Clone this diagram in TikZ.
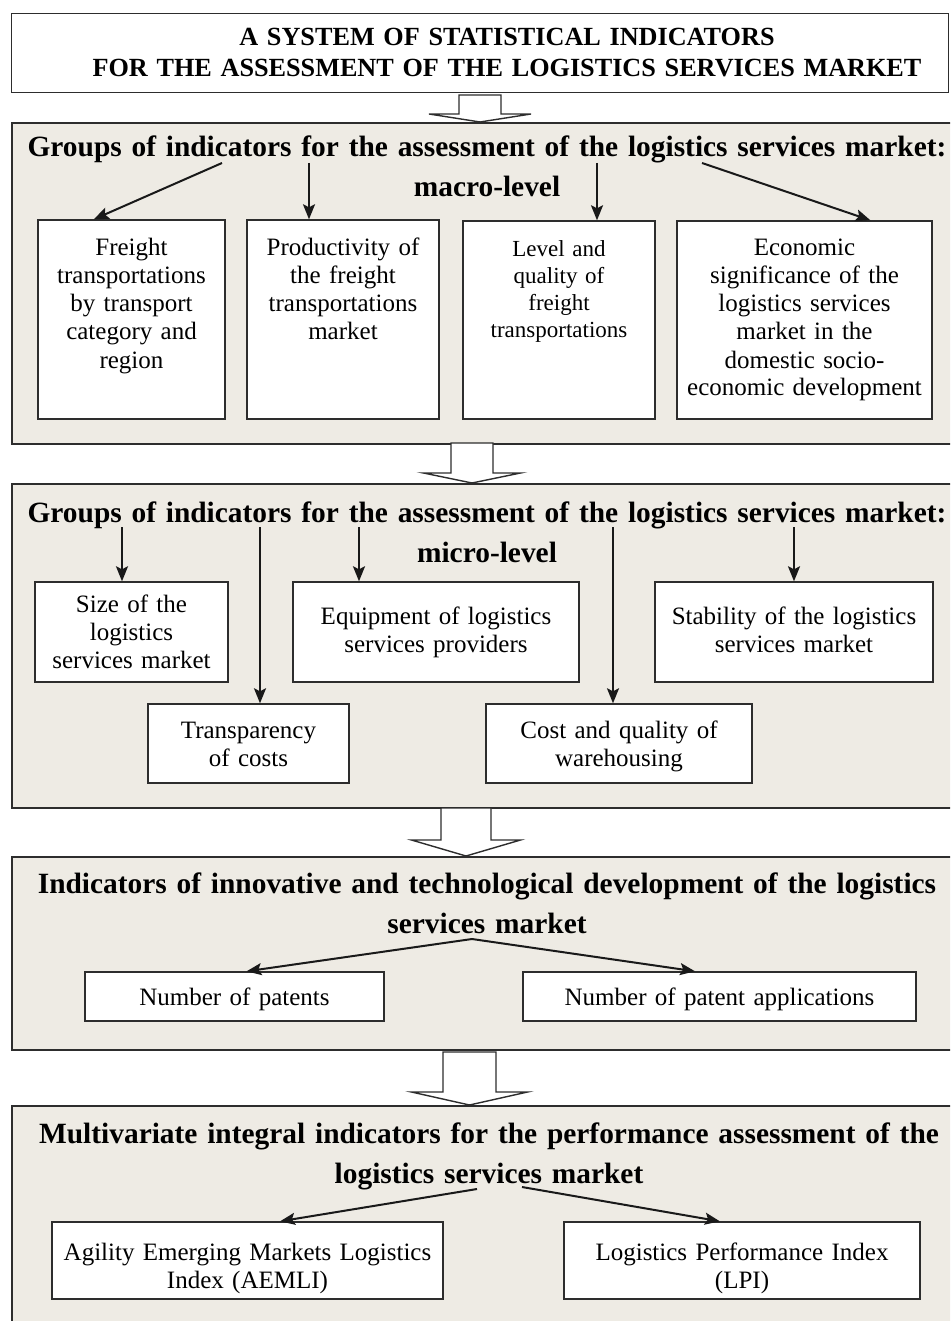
\documentclass[tikz,border=0pt]{standalone}
\usepackage{fontspec}
\setmainfont{Liberation Serif}
\usetikzlibrary{arrows.meta,calc}
\definecolor{panelfill}{RGB}{238,235,228}
\definecolor{edge}{RGB}{45,45,45}
\def\hollowarrow(#1,#2,#3)(#4,#5,#6){\draw[hollow] (#1-#2,#4) -- (#1-#2,#5) -- (#1-#3,#5) -- (#1,#6) -- (#1+#3,#5) -- (#1+#2,#5) -- (#1+#2,#4) -- cycle;}

\begin{document}
\begin{tikzpicture}[x=1pt, y=-1pt,
	panel/.style={draw=edge, fill=panelfill, line width=1.6pt, inner sep=0pt, anchor=north west},
	ibox/.style={draw=edge, fill=white, line width=1.4pt, inner sep=0pt, align=center, anchor=base, font={\fontsize{25}{28}\selectfont}},
	head/.style={anchor=base, align=center, text width=945pt, inner sep=0pt, font={\fontsize{29.4}{40}\selectfont\bfseries}},
	conn/.style={draw=black!90, line width=2pt, -{Stealth[length=15pt,width=12pt,inset=3pt]}},
	hollow/.style={draw=edge, fill=white, line width=1.4pt, line join=miter}]
		%%%%% START %%%%%
		\useasboundingbox (0,0) rectangle (950,1321);
		\clip (0,0) rectangle (950,1321);
		
		% title
		\node[draw=edge, fill=white, line width=1.4pt, inner sep=0pt, anchor=north west, minimum width=937pt, minimum height=79pt] (titlebox) at (11,13) {};
		\node[anchor=base, align=center, text width=900pt, inner sep=0pt, font={\fontsize{26.2}{31}\selectfont\bfseries}] (title) at (507,46) {A SYSTEM OF STATISTICAL INDICATORS\\FOR THE ASSESSMENT OF THE LOGISTICS SERVICES MARKET};
		
		% the four shaded levels
		\node[panel, minimum width=941pt, minimum height=321pt] (macro) at (11,122) {};
		\node[panel, minimum width=941pt, minimum height=324pt] (micro) at (11,483) {};
		\node[panel, minimum width=941pt, minimum height=193pt] (innov) at (11,856) {};
		\node[panel, minimum width=941pt, minimum height=230pt] (multi) at (11,1105) {};
		
		% hollow arrows between the levels
		\hollowarrow(480,21,51)(95,114,122)
		\hollowarrow(472,21,48.5)(443,473,483)
		\hollowarrow(466,25,54.5)(808,840,856)
		\hollowarrow(469.5,26.5,58)(1052,1092,1105)
		
		% macro-level
		\node[head] (macrohead) at (487,157) {Groups of indicators for the assessment of the logistics services market:\\macro-level};
		\node[ibox, minimum width=187pt, text width=180pt, text height=36pt, text depth=163pt] (freight) at (131.5,256) {Freight\\transportations\\by transport\\category and\\region};
		\node[ibox, minimum width=192pt, text width=185pt, text height=36pt, text depth=163pt] (product) at (343,256) {Productivity of\\the freight\\transportations\\market};
		\node[ibox, minimum width=192pt, text width=185pt, text height=36pt, text depth=162pt, font={\fontsize{23}{27}\selectfont}] (level) at (559,257) {Level and\\quality of\\freight\\transportations};
		\node[ibox, minimum width=255pt, text width=248pt, text height=35pt, text depth=163pt] (econ) at (804.5,256) {Economic\\significance of the\\logistics services\\market in the\\domestic socio-\\economic development};
		
		\coordinate (m1) at (222,163);
		\coordinate (m2) at (309,163);
		\coordinate (m3) at (597,163);
		\coordinate (m4) at (702,163);
		\draw[conn] (m1) -- ($(freight.north west)!0.3!(freight.north east)$);
		\draw[conn] (m2) -- (m2 |- product.north);
		\draw[conn] (m3) -- (m3 |- level.north);
		\draw[conn] (m4) -- ($(econ.north west)!0.757!(econ.north east)$);
		
		% micro-level
		\node[head] (microhead) at (487,522) {Groups of indicators for the assessment of the logistics services market:\\micro-level};
		\node[ibox, minimum width=193pt, text width=186pt, text height=30pt, text depth=70pt] (size) at (131.5,612) {Size of the\\logistics\\services market};
		\node[ibox, minimum width=286pt, text width=279pt, text height=42pt, text depth=58pt] (equip) at (436,624) {Equipment of logistics\\services providers};
		\node[ibox, minimum width=278pt, text width=271pt, text height=42pt, text depth=58pt] (stab) at (794,624) {Stability of the logistics\\services market};
		\node[ibox, minimum width=201pt, text width=194pt, text height=34pt, text depth=45pt] (transp) at (248.5,738) {Transparency\\of costs};
		\node[ibox, minimum width=266pt, text width=259pt, text height=34pt, text depth=45pt] (cost) at (619,738) {Cost and quality of\\warehousing};
		
		\coordinate (s1) at (122,527);
		\coordinate (s2) at (260,527);
		\coordinate (s3) at (359,527);
		\coordinate (s4) at (613,527);
		\coordinate (s5) at (794,527);
		\draw[conn] (s1) -- (s1 |- size.north);
		\draw[conn] (s2) -- (s2 |- transp.north);
		\draw[conn] (s3) -- (s3 |- equip.north);
		\draw[conn] (s4) -- (s4 |- cost.north);
		\draw[conn] (s5) -- (s5 |- stab.north);
		
		% innovation
		\node[head] (innovhead) at (487,893) {Indicators of innovative and technological development of the logistics\\services market};
		\node[ibox, minimum width=299pt, text width=292pt, text height=33pt, text depth=16pt] (patents) at (234.5,1005) {Number of patents};
		\node[ibox, minimum width=393pt, text width=386pt, text height=33pt, text depth=16pt] (applic) at (719.5,1005) {Number of patent applications};
		
		\coordinate (i0) at (472,939);
		\draw[conn] (i0) -- ($(patents.north west)!0.54!(patents.north east)$);
		\draw[conn] (i0) -- ($(applic.north west)!0.438!(applic.north east)$);
		
		% integral indicators
		\node[head] (multihead) at (489,1143) {Multivariate integral indicators for the performance assessment of the\\logistics services market};
		\node[ibox, minimum width=391pt, text width=384pt, text height=38pt, text depth=39pt] (aemli) at (247.5,1260) {Agility Emerging Markets Logistics\\Index (AEMLI)};
		\node[ibox, minimum width=356pt, text width=349pt, text height=38pt, text depth=39pt] (lpi) at (742,1260) {Logistics Performance Index\\(LPI)};
		
		\coordinate (v1) at (477,1189);
		\coordinate (v2) at (522,1187);
		\draw[conn] (v1) -- ($(aemli.north west)!0.583!(aemli.north east)$);
		\draw[conn] (v2) -- ($(lpi.north west)!0.438!(lpi.north east)$);
		
		%%%%% END %%%%%
\end{tikzpicture}
\end{document}
